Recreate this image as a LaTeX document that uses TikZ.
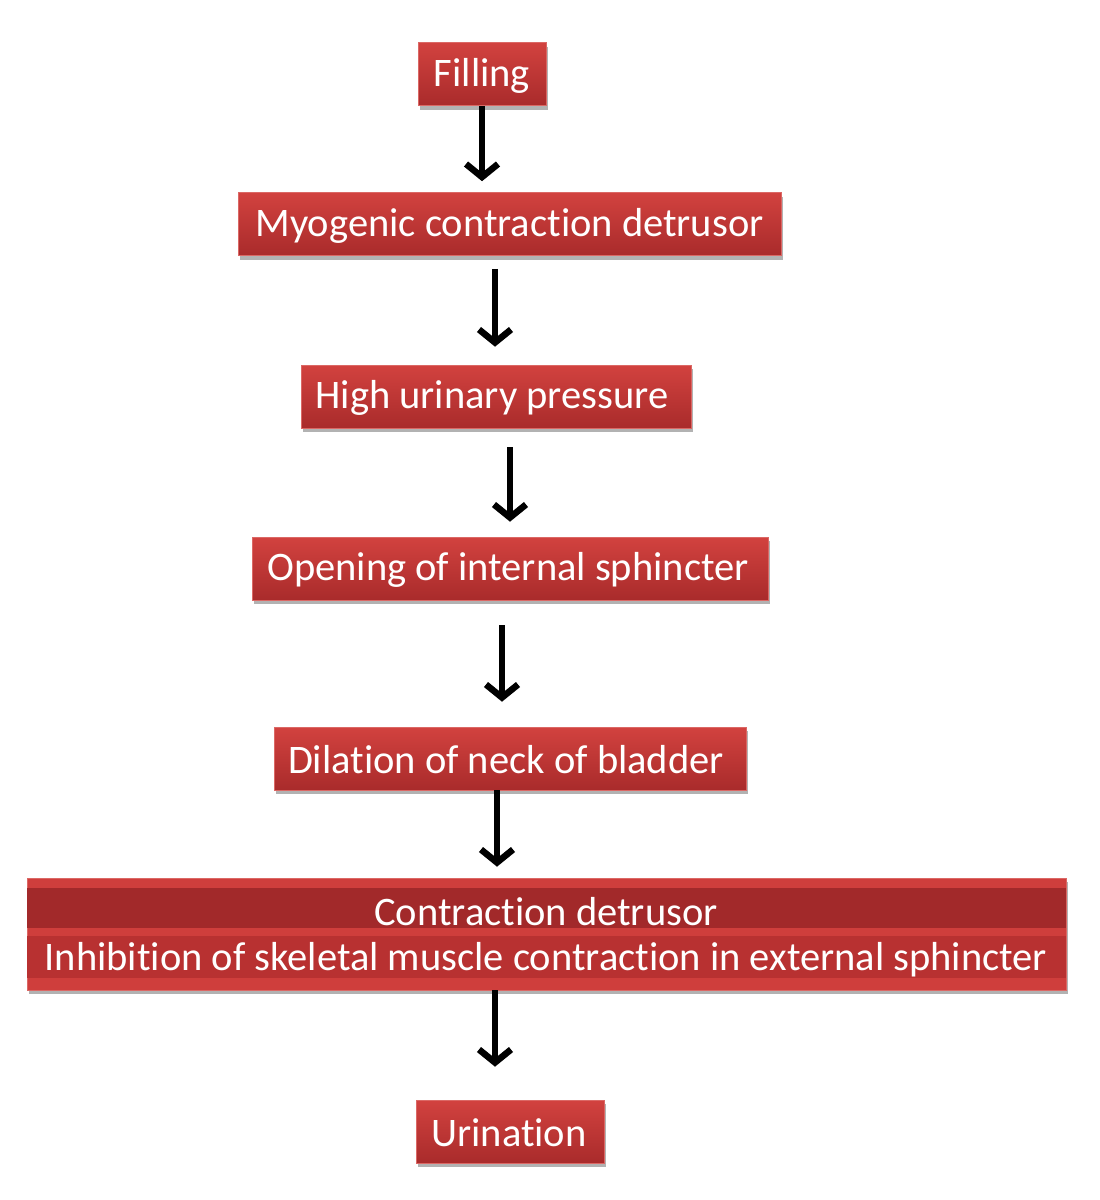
\documentclass[tikz,border=0pt]{standalone}
\usepackage{fontspec}
\setmainfont[Ligatures={NoCommon,NoContextual,NoRare},RawFeature={-calt}]{Carlito}
\usetikzlibrary{arrows.meta,shadows}
\definecolor{redtop}{HTML}{D2423F}
\definecolor{redbot}{HTML}{A92B2B}
\definecolor{redlight}{HTML}{CF3E3C}
\definecolor{reddark}{HTML}{A2292A}
\definecolor{redmid}{HTML}{B83131}
\tikzset{
  box/.style={rectangle, inner sep=0pt, minimum height=63pt, top color=redtop, bottom color=redbot,
    draw=redtop!80!white, line width=0.6pt,
    drop shadow={shadow xshift=2pt, shadow yshift=-4pt, fill=black, opacity=0.3}},
  lbl/.style={text=white, font=\fontsize{40.5}{46}\selectfont, inner sep=0pt},
  arr/.style={line width=6.5pt, -{Straight Barb[length=13pt,width=32pt]}}
}
\begin{document}
\begin{tikzpicture}[x=1pt,y=-1pt]
\useasboundingbox (0,0) rectangle (1100,1200);
\fill[white] (0,0) rectangle (1100,1200);
\node[box, minimum width=128pt] (fill) at (482,74) {};
\node[box, minimum width=543pt] (myo) at (509.5,224) {};
\node[box, minimum width=390pt] (high) at (496,396.5) {};
\node[box, minimum width=516pt] (open) at (510,568.5) {};
\node[box, minimum width=472pt] (dil) at (510,758.5) {};
\node[box, minimum width=1039pt, minimum height=112pt, top color=redlight, bottom color=redlight] (big) at (546.5,934) {};
\fill[reddark] ([yshift=-10pt]big.north west) rectangle ([yshift=-50pt]big.north east);
\fill[redmid] ([yshift=-58pt]big.north west) rectangle ([yshift=12pt]big.south east);
\node[box, minimum width=188pt] (uri) at (510,1131.5) {};
\node[lbl] (t1) at (482,76) {Filling};
\node[lbl] (t2) at (509.5,226) {Myogenic contraction detrusor};
\node[lbl] (t3) at (492,398) {High urinary pressure};
\node[lbl] (t4) at (508,570) {Opening of internal sphincter};
\node[lbl] (t5) at (506,760) {Dilation of neck of bladder};
\node[lbl] (l1) at (546,912) {Contraction detrusor};
\node[lbl] (l2) at (546,960) {Inhibition of skeletal muscle contraction in external sphincter};
\node[lbl] (t7) at (509,1133) {Urination};
\coordinate (x1) at (482,0);
\coordinate (x2) at (495,0);
\coordinate (x3) at (510,0);
\coordinate (x4) at (502,0);
\coordinate (x5) at (497,0);
\coordinate (x6) at (495,0);
\draw[arr, shorten >=11pt] (fill.south -| x1) -- (myo.north -| x1);
\draw[arr, shorten <=13pt, shorten >=18pt] (myo.south -| x2) -- (high.north -| x2);
\draw[arr, shorten <=19pt, shorten >=15pt] (high.south -| x3) -- (open.north -| x3);
\draw[arr, shorten <=25pt, shorten >=25pt] (open.south -| x4) -- (dil.north -| x4);
\draw[arr, shorten >=11pt] (dil.south -| x5) -- (big.north -| x5);
\draw[arr, shorten >=33pt] (big.south -| x6) -- (uri.north -| x6);
\end{tikzpicture}
\end{document}
